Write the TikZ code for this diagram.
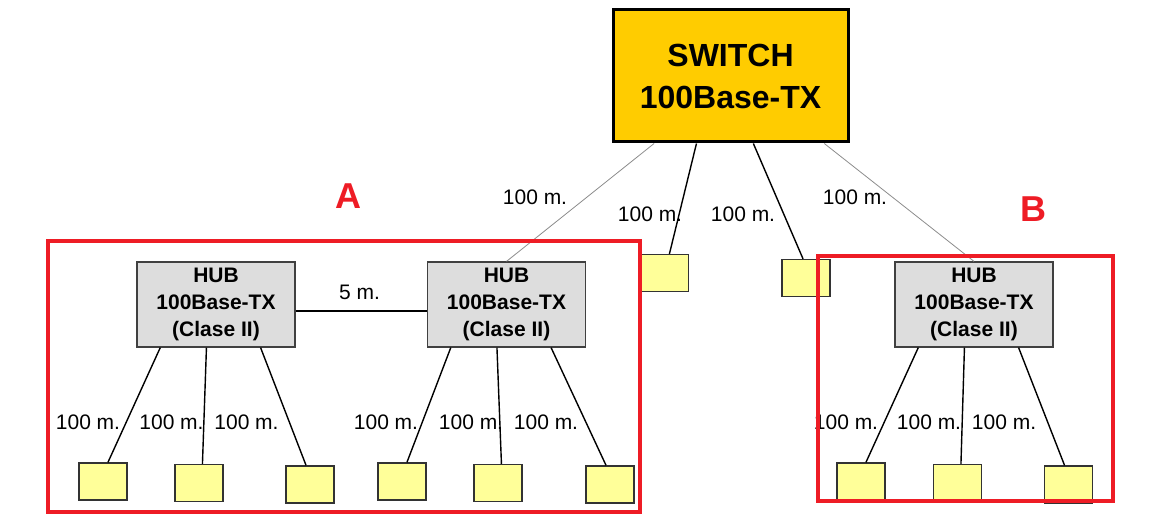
\documentclass[tikz,border=0pt]{standalone}
\usepackage{fontspec}
\setmainfont{Liberation Sans}
\usetikzlibrary{calc}
\definecolor{swgold}{HTML}{FFCC00}
\definecolor{hubgray}{HTML}{DDDDDD}
\definecolor{pcyel}{HTML}{FFFF99}
\definecolor{marcored}{HTML}{EE1C25}
\begin{document}
\begin{tikzpicture}[x=0.5pt, y=-0.5pt,
    sw/.style={draw, line width=1.5pt, fill=swgold, minimum width=117.5pt, minimum height=66pt,
      align=center, font=\fontsize{16}{21}\selectfont\bfseries},
    hub/.style={draw=black!75, line width=0.6pt, fill=hubgray, minimum width=79pt, minimum height=42.5pt,
      inner sep=0pt, align=center, font=\fontsize{10.5}{13.5}\selectfont\bfseries},
    pc/.style={draw=black!80, line width=0.6pt, fill=pcyel, minimum width=24pt, minimum height=18.5pt, inner sep=0pt},
    lbl/.style={inner sep=0pt, font=\fontsize{10.5}{12}\selectfont},
    cab/.style={line width=0.7pt},
    fino/.style={draw=black!45, line width=0.4pt},
    marco/.style={draw=marcored, line width=2pt},
    letra/.style={text=marcored, font=\fontsize{18}{20}\selectfont\bfseries}]
    \useasboundingbox (0,0) rectangle (1151,528);
    % Switch y hubs
    \node[sw] (sw) at (730.5,76) {SWITCH\\100Base-TX};
    \foreach \h/\x in {1/216, 2/506.5, 3/974}
      {\node[hub] (hub\h) at (\x,304.5) {HUB\\100Base-TX\\(Clase II)};}
    % Equipos colgando del switch
    \node[pc] (pcA) at (664.5,273) {};
    \node[pc] (pcB) at (806,278) {};
    % Equipos de cada hub
    \foreach \h/\xa/\xb/\xc in {1/103/199/310, 2/402/498/610, 3/861/957.5/1068.5}
      {\foreach \x [count=\i] in {\xa,\xb,\xc} {\node[pc] (pc\h\i) at (\x,480+1.5*\i) {};}}
    % Cables del switch
    \draw[fino] ($(sw.south west)!0.179!(sw.south east)$) -- (hub2.north);
    \draw[cab] ($(sw.south west)!0.357!(sw.south east)$) -- ($(pcA.north west)!0.6!(pcA.north east)$);
    \draw[cab] ($(sw.south west)!0.596!(sw.south east)$) -- ($(pcB.north west)!0.44!(pcB.north east)$);
    \draw[fino] ($(sw.south west)!0.894!(sw.south east)$) -- (hub3.north);
    \node[lbl] (ls1) at (535,197) {100 m.};
    \node[lbl] (ls2) at (650,214) {100 m.};
    \node[lbl] (ls3) at (743,214) {100 m.};
    \node[lbl] (ls4) at (855,197) {100 m.};
    % Cables de los hubs
    \foreach \h in {1,2,3}
      {\foreach \i/\f/\g in {1/0.15/0.6, 2/0.44/0.57, 3/0.78/0.42}
        {\draw[cab] ($(hub\h.south west)!\f!(hub\h.south east)$) -- ($(pc\h\i.north west)!\g!(pc\h\i.north east)$);}}
    \foreach \x [count=\i] in {88,171.5,246.5,386,471,546,846,929,1004}
      {\node[lbl] (lh\i) at (\x,422) {100 m.};}
    % Enlace entre hubs
    \draw[line width=1.3pt] ([yshift=-3.25pt]hub1.east) -- ([yshift=-3.25pt]hub2.west);
    \node[lbl] (l5) at (359.5,292) {5 m.};
    % Marcos A y B
    \draw[marco] (48,241) rectangle (640,512);
    \draw[marco] (818,256) rectangle (1113,501);
    \node[letra] (ta) at (348,196) {A};
    \node[letra] (tb) at (1033,209) {B};
\end{tikzpicture}
\end{document}
